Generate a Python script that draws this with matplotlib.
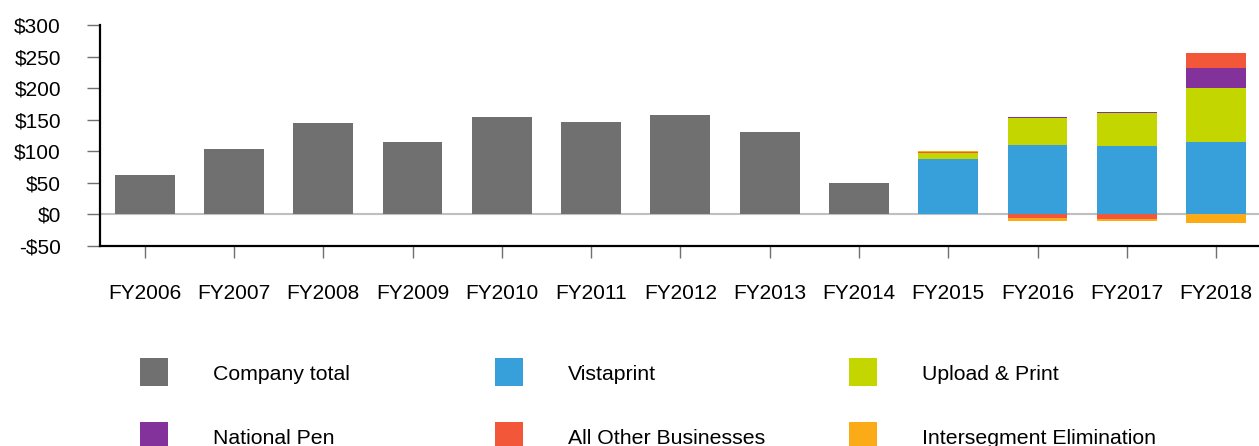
import matplotlib
matplotlib.use("Agg")
import matplotlib.pyplot as plt
from matplotlib.patches import Rectangle
import numpy as np

plt.rcParams['font.family'] = ['Liberation Sans', 'DejaVu Sans']

years = ["FY2006", "FY2007", "FY2008", "FY2009", "FY2010", "FY2011", "FY2012",
         "FY2013", "FY2014", "FY2015", "FY2016", "FY2017", "FY2018"]
company_total = [62, 104, 145, 115, 155, 147, 158, 131, 50, 0, 0, 0, 0]
vistaprint = [0, 0, 0, 0, 0, 0, 0, 0, 0, 87, 110.5, 109, 115]
upload_print = [0, 0, 0, 0, 0, 0, 0, 0, 0, 11, 42.7, 52, 85.5]
national_pen = [0, 0, 0, 0, 0, 0, 0, 0, 0, 0, 1.5, 1.6, 31.6]
all_other = [0, 0, 0, 0, 0, 0, 0, 0, 0, 1.5, -6.3, -7.9, 23.7]
intersegment = [0, 0, 0, 0, 0, 0, 0, 0, 0, 1.5, -4.7, -3.2, -14]

series = [
    ("Company total", company_total, "#707070"),
    ("Vistaprint", vistaprint, "#37a0da"),
    ("Upload & Print", upload_print, "#c4d600"),
    ("National Pen", national_pen, "#82329a"),
    ("All Other Businesses", all_other, "#f2573a"),
    ("Intersegment Elimination", intersegment, "#fbab18"),
]

W, H = 1259, 446
PT = 0.72  # points per pixel at dpi 100
fig = plt.figure(figsize=(W / 100, H / 100), dpi=100)
ax = fig.add_axes([100 / W, 1 - 246 / H, 1 - 100 / W, (246 - 25) / H])

x = np.arange(len(years))
pos_base = np.zeros(len(years))
neg_base = np.zeros(len(years))
for name, vals, col in series:
    v = np.array(vals, dtype=float)
    pos = np.where(v > 0, v, 0)
    neg = np.where(v < 0, v, 0)
    ax.bar(x, pos, bottom=pos_base, width=0.67, color=col, linewidth=0, zorder=2)
    ax.bar(x, neg, bottom=neg_base, width=0.67, color=col, linewidth=0, zorder=2)
    pos_base += pos
    neg_base += neg

ax.axhline(0, color="#c0c0c0", linewidth=1.5 * PT * 1.4, zorder=1)
ax.set_xlim(-0.5, 12.48)
ax.set_ylim(-50, 300)
ax.set_yticks([-50, 0, 50, 100, 150, 200, 250, 300])
ax.set_yticklabels(["-$50", "$0", "$50", "$100", "$150", "$200", "$250", "$300"])
ax.set_xticks(x)
ax.set_xticklabels(years)
ax.tick_params(axis='y', length=13 * PT, width=1.4 * PT, color="#707070",
               labelsize=15, pad=26 * PT)
ax.tick_params(axis='x', length=12 * PT, width=1.4 * PT, color="#707070",
               labelsize=15, pad=26 * PT)
for s in ["top", "right"]:
    ax.spines[s].set_visible(False)
for s in ["left", "bottom"]:
    ax.spines[s].set_linewidth(2.2 * PT)
    ax.spines[s].set_color("black")

# legend
col_x = [140, 495, 849]
row_y = [358, 422]
for i, (name, vals, col) in enumerate(series):
    r, c = divmod(i, 3)
    x0, y0 = col_x[c], row_y[r]
    fig.add_artist(Rectangle((x0 / W, 1 - (y0 + 28) / H), 28 / W, 28 / H,
                             transform=fig.transFigure, color=col, linewidth=0))
    fig.text((x0 + 73) / W, 1 - (y0 + 16) / H, name, fontsize=15.3,
             va="center", ha="left", color="black")

fig.savefig("out.png", dpi=100)
